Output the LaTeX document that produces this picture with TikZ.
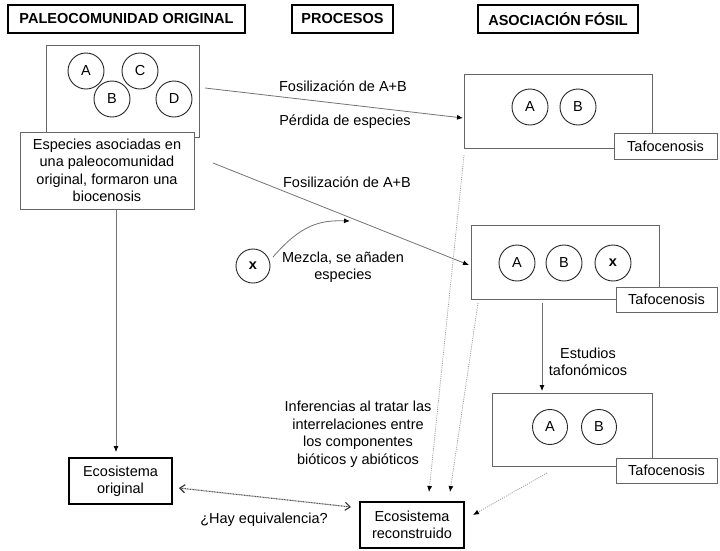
\documentclass[tikz,border=0pt]{standalone}
\usepackage{fontspec}
\setmainfont{Liberation Sans}
\usetikzlibrary{arrows.meta}
\begin{document}
\begin{tikzpicture}[x=1pt,y=-1pt,
  every node/.style={font=\fontsize{14.5}{17.5}\selectfont},
  thinbox/.style={draw=black!60, line width=1pt, fill=white, inner sep=0pt, align=center},
  thickbox/.style={draw=black, line width=2.5pt, fill=white, inner sep=0pt, align=center},
  headbox/.style={thickbox, font=\fontsize{14.5}{17.5}\selectfont\bfseries},
  sp/.style={circle, draw=black!85, line width=0.9pt, minimum size=36pt, inner sep=0pt},
  lbl/.style={align=center, inner sep=0pt},
  conn/.style={draw=black!55, line width=0.8pt, -{Latex[length=6pt,width=5pt,color=black]}},
  dotl/.style={draw=black!40, line width=0.8pt, dash pattern=on 1pt off 1.2pt, -{Latex[length=6pt,width=5pt,color=black]}},
  dbl/.style={draw=black!65, line width=1.1pt, dash pattern=on 1pt off 0.6pt, {Straight Barb[length=5pt,width=8pt,color=black!80]}-{Straight Barb[length=5pt,width=8pt,color=black!80]}},
]
\useasboundingbox (0,0) rectangle (720,550);

% headers
\node[headbox, minimum width=237pt, minimum height=28pt] (h1) at (126.5,19) {PALEOCOMUNIDAD ORIGINAL};
\node[headbox, minimum width=101pt, minimum height=28pt] (h2) at (342.5,19) {PROCESOS};
\node[headbox, minimum width=160pt, minimum height=28pt] (h3) at (558,19) {ASOCIACIÓN FÓSIL};

% biocenosis
\node[thinbox, minimum width=153pt, minimum height=92pt] (bio) at (122.5,91) {};
\node[sp] (bA) at (86,71) {A};
\node[sp] (bC) at (140,71) {C};
\node[sp] (bB) at (112,99) {B};
\node[sp] (bD) at (174,99) {D};
\node[thinbox, minimum width=174pt, minimum height=77pt] (desc) at (107,170.5) {Especies asociadas en\\una paleocomunidad\\original, formaron una\\biocenosis};

% ecosystems
\node[thickbox, minimum width=103pt, minimum height=46pt] (ecoO) at (120.5,481) {Ecosistema\\original};
\node[thickbox, minimum width=104pt, minimum height=46pt] (ecoR) at (412,525) {Ecosistema\\reconstruido};

% tafocenosis 1
\node[thinbox, minimum width=188pt, minimum height=74pt] (t1) at (558,111) {};
\node[sp] (t1A) at (530,107) {A};
\node[sp] (t1B) at (578,107) {B};
\node[thinbox, minimum width=103pt, minimum height=26pt] (t1l) at (665.5,146) {Tafocenosis};

% tafocenosis 2
\node[thinbox, minimum width=188pt, minimum height=74pt] (t2) at (565,262) {};
\node[sp] (t2A) at (517,263) {A};
\node[sp] (t2B) at (564,263) {B};
\node[sp, font=\fontsize{14.5}{17.5}\selectfont\bfseries] (t2X) at (613,263) {x};
\node[thinbox, minimum width=101pt, minimum height=25pt] (t2l) at (666.5,299.5) {Tafocenosis};

% tafocenosis 3
\node[thinbox, minimum width=160pt, minimum height=73pt] (t3) at (572,429.5) {};
\node[sp, minimum size=35pt] (t3A) at (550,427) {A};
\node[sp, minimum size=35pt] (t3B) at (599,427) {B};
\node[thinbox, minimum width=101pt, minimum height=25pt] (t3l) at (666.5,470.5) {Tafocenosis};

% lone x
\node[sp, minimum size=34pt, font=\fontsize{14.5}{17.5}\selectfont\bfseries] (xx) at (253,266) {x};

% labels
\node[lbl] (f1) at (343,86) {Fosilización de A+B};
\node[lbl] (pd) at (345,122) {Pérdida de especies};
\node[lbl] (f2) at (347,182) {Fosilización de A+B};
\node[lbl] (mz) at (343,267) {Mezcla, se añaden\\especies};
\node[lbl] (et) at (588,362) {Estudios\\tafonómicos};
\node[lbl] (inf) at (358,434) {Inferencias al tratar las\\interrelaciones entre\\los componentes\\bióticos y abióticos};
\node[lbl] (hq) at (264,520) {¿Hay equivalencia?};

% coordinates for connector ends
\coordinate (s1) at (205,88);
\coordinate (e1) at (463,118);
\coordinate (s2) at (213,163);
\coordinate (e2) at (469,265);
\coordinate (sx) at (273,257);
\coordinate (ex) at (350,221);
\coordinate (sv) at (116,209);
\coordinate (ev) at (116,452);
\coordinate (s23) at (542,303);
\coordinate (e23) at (542,391);
\coordinate (d1s) at (464,155);
\coordinate (d1e) at (429,492);
\coordinate (d2s) at (478,303);
\coordinate (d2e) at (450,492);
\coordinate (d3s) at (547,473);
\coordinate (d3e) at (473,515);
\coordinate (qs) at (179,488);
\coordinate (qe) at (351,507);

\draw[conn] (s1) -- (e1);
\draw[conn] (s2) -- (e2);
\draw[conn] (sx) .. controls (300,226) and (318,220) .. (ex);
\draw[conn] (sv) -- (ev);
\draw[conn] (s23) -- (e23);
\draw[dotl] (d1s) -- (d1e);
\draw[dotl] (d2s) -- (d2e);
\draw[dotl] (d3s) -- (d3e);
\draw[dbl] (qs) -- (qe);
\end{tikzpicture}
\end{document}
